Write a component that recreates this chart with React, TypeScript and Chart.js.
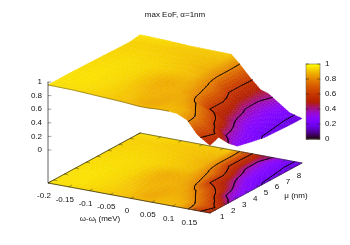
import React, { useEffect, useRef } from "react";
import { Chart, registerables } from "chart.js";

Chart.register(...registerables);

const titleText = "max EoF, \u03b1=1nm";
const omegas = [-0.2, -0.14, -0.08, -0.02, 0.02, 0.04, 0.065, 0.09, 0.11, 0.135, 0.16, 0.19];
const mus = [0.5, 1.3, 2.2, 3, 4.3, 5.5, 6.8, 8, 8.9];
const zMu0 = [0.956, 0.95, 0.93, 0.91, 0.89, 0.89, 0.9, 0.9, 0.89, 0.82, 0.63, 0.51];
const zMu1 = [0.956, 0.96, 0.94, 0.91, 0.87, 0.87, 0.89, 0.89, 0.88, 0.79, 0.69, 0.56];
const zMu2 = [0.956, 0.96, 0.94, 0.9, 0.88, 0.87, 0.88, 0.86, 0.8, 0.72, 0.58, 0.39];
const zMu3 = [0.955, 0.96, 0.94, 0.885, 0.885, 0.88, 0.87, 0.8, 0.74, 0.61, 0.41, 0.28];
const zMu4 = [0.95, 0.955, 0.94, 0.875, 0.88, 0.87, 0.8, 0.6, 0.54, 0.45, 0.33, 0.23];
const zMu5 = [0.945, 0.95, 0.94, 0.92, 0.9, 0.84, 0.76, 0.6, 0.49, 0.33, 0.24, 0.19];
const zMu6 = [0.938, 0.94, 0.93, 0.91, 0.88, 0.81, 0.62, 0.5, 0.39, 0.3, 0.23, 0.18];
const zMu7 = [0.935, 0.93, 0.92, 0.91, 0.9, 0.81, 0.62, 0.5, 0.38, 0.28, 0.22, 0.17];
const zMu8 = [0.96, 0.95, 0.93, 0.925, 0.92, 0.8, 0.63, 0.48, 0.44, 0.33, 0.22, 0.17];
const zRows = [zMu0, zMu1, zMu2, zMu3, zMu4, zMu5, zMu6, zMu7, zMu8];
const contourLevels = [0.2, 0.4, 0.6, 0.8];
const omegaTicks = [-0.2, -0.15, -0.1, -0.05, 0, 0.05, 0.1, 0.15];
const omegaLabels = ["-0.2", "-0.15", "-0.1", "-0.05", "0", "0.05", "0.1", "0.15"];
const muTicks = [1, 2, 3, 4, 5, 6, 7, 8];
const zTicks = [0, 0.2, 0.4, 0.6, 0.8, 1];
const zLabels = ["0", "0.2", "0.4", "0.6", "0.8", "1"];

// View of the 3D box on the page
const W = 350, H = 245;
const ORIGIN = [48, 183], AX = [162, 30], AY = [92, -50];
const Z0 = 33, ZS = 68;
const CB = { l: 306, r: 320, t: 64, b: 139 };
const SUB = 5;
const FONT = "8px 'Liberation Sans', Arial, sans-serif";

const oMin = omegas[0], oMax = omegas[omegas.length - 1];
const mMin = mus[0], mMax = mus[mus.length - 1];

function proj(o: number, m: number, z: number | null) {
  const u = (o - oMin) / (oMax - oMin), v = (m - mMin) / (mMax - mMin);
  const x = ORIGIN[0] + AX[0] * u + AY[0] * v;
  let y = ORIGIN[1] + AX[1] * u + AY[1] * v;
  if (z !== null) y -= Z0 + ZS * z;
  return { x, y };
}

function palette(g: number) {
  const c = Math.max(0, Math.min(1, g));
  const r = Math.sqrt(c), gg = c * c * c, b = Math.max(0, Math.sin(2 * Math.PI * c));
  return `rgb(${Math.round(r * 255)},${Math.round(gg * 255)},${Math.round(b * 255)})`;
}

// Refined table for pm3d-like interpolated shading
type Node = { o: number; m: number; z: number };
function refine(): Node[][] {
  const out: Node[][] = [];
  for (let j = 0; j < mus.length - 1; j++) {
    for (let sj = 0; sj < SUB + (j === mus.length - 2 ? 1 : 0); sj++) {
      const tm = sj / SUB;
      const row: Node[] = [];
      for (let i = 0; i < omegas.length - 1; i++) {
        for (let si = 0; si < SUB + (i === omegas.length - 2 ? 1 : 0); si++) {
          const to = si / SUB;
          const a = zRows[j][i], b = zRows[j][i + 1], c = zRows[j + 1][i], d = zRows[j + 1][i + 1];
          row.push({
            o: omegas[i] + (omegas[i + 1] - omegas[i]) * to,
            m: mus[j] + (mus[j + 1] - mus[j]) * tm,
            z: (a * (1 - to) + b * to) * (1 - tm) + (c * (1 - to) + d * to) * tm,
          });
        }
      }
      out.push(row);
    }
  }
  return out;
}

function contourSegs(t: Node[][], level: number, onSurface: boolean) {
  const pts: { x: number; y: number }[] = [];
  const cross = (a: Node, b: Node) => {
    const s = (level - a.z) / (b.z - a.z);
    const o = a.o + (b.o - a.o) * s, m = a.m + (b.m - a.m) * s;
    return proj(o, m, onSurface ? level : null);
  };
  for (let j = 0; j < t.length - 1; j++) {
    for (let i = 0; i < t[j].length - 1; i++) {
      const n = [t[j][i], t[j][i + 1], t[j + 1][i + 1], t[j + 1][i]];
      const hits: { x: number; y: number }[] = [];
      for (let k = 0; k < 4; k++) {
        const a = n[k], b = n[(k + 1) % 4];
        if (a.z < level !== b.z < level) hits.push(cross(a, b));
      }
      for (let h = 0; h + 1 < hits.length; h += 2) {
        pts.push(hits[h], hits[h + 1], { x: NaN, y: NaN });
      }
    }
  }
  return pts;
}

function tickLines() {
  const pts: { x: number; y: number }[] = [];
  const gap = { x: NaN, y: NaN };
  const du = 0.03, dv = 0.02;
  omegaTicks.forEach((o) => {
    const dm = (mMax - mMin) * du;
    pts.push(proj(o, mMin, null), proj(o, mMin + dm, null), gap);
    pts.push(proj(o, mMax, null), proj(o, mMax - dm, null), gap);
  });
  muTicks.forEach((m) => {
    const dox = (oMax - oMin) * dv;
    pts.push(proj(oMax, m, null), proj(oMax - dox, m, null), gap);
    pts.push(proj(oMin, m, null), proj(oMin + dox, m, null), gap);
  });
  const zx = ORIGIN[0];
  zTicks.forEach((z) => {
    const p = proj(oMin, mMin, z);
    pts.push({ x: zx, y: p.y }, { x: zx + 3, y: p.y }, gap);
  });
  return pts;
}

function cbTicks() {
  const pts: { x: number; y: number }[] = [];
  zTicks.forEach((z) => {
    const y = CB.b - (CB.b - CB.t) * z;
    pts.push({ x: CB.l, y }, { x: CB.l + 2.5, y }, { x: NaN, y: NaN });
    pts.push({ x: CB.r - 2.5, y }, { x: CB.r, y }, { x: NaN, y: NaN });
  });
  return pts;
}

const lineDs = (data: any[], color: string, width: number) => ({
  data,
  showLine: true,
  borderColor: color,
  borderWidth: width,
  pointRadius: 0,
  spanGaps: false,
  borderCapStyle: "round" as const,
  tension: 0,
});

export default function App() {
  const ref = useRef<HTMLCanvasElement>(null);
  useEffect(() => {
    const table = refine();
    const datasets: any[] = [];
    // box
    const c00 = proj(oMin, mMin, null), c10 = proj(oMax, mMin, null), c11 = proj(oMax, mMax, null), c01 = proj(oMin, mMax, null);
    datasets.push(lineDs([c01, c11, { x: NaN, y: NaN }, c10, c11], "rgba(40,40,40,0.8)", 0.7));
    datasets.push(lineDs([c01, c00, c10], "rgba(30,30,30,0.9)", 0.8));
    datasets.push(lineDs([{ x: c00.x, y: c00.y }, { x: c00.x, y: proj(oMin, mMin, 1).y }], "rgba(40,40,40,0.9)", 0.8));
    datasets.push(lineDs(tickLines(), "rgba(40,40,40,0.7)", 0.6));
    // surface front rim
    const rim = omegas.filter((o) => o <= 0.09).map((o, i) => proj(o, mMin, zMu0[i]));
    datasets.push(lineDs(rim, "rgba(70,60,20,0.65)", 0.7));
    contourLevels.forEach((lv) => {
      datasets.push(lineDs(contourSegs(table, lv, false), "#000", 0.8));
      datasets.push(lineDs(contourSegs(table, lv, true), "#000", 0.8));
    });
    datasets.push(lineDs(cbTicks(), "rgba(40,20,0,0.75)", 0.6));

    const drawCells = (chart: any, t: Node[][], surface: boolean) => {
      const { ctx, scales } = chart;
      const px = (p: { x: number; y: number }) => [scales.x.getPixelForValue(p.x), scales.y.getPixelForValue(p.y)];
      for (let j = t.length - 2; j >= 0; j--) {
        for (let i = 0; i < t[j].length - 1; i++) {
          const n = [t[j][i], t[j][i + 1], t[j + 1][i + 1], t[j + 1][i]];
          const z = (n[0].z + n[1].z + n[2].z + n[3].z) / 4;
          const col = palette(z);
          ctx.fillStyle = col;
          ctx.strokeStyle = col;
          ctx.lineWidth = 0.5;
          ctx.beginPath();
          n.forEach((q, k) => {
            const [x, y] = px(proj(q.o, q.m, surface ? q.z : null));
            if (k) ctx.lineTo(x, y); else ctx.moveTo(x, y);
          });
          ctx.closePath();
          ctx.fill();
          ctx.stroke();
        }
      }
    };

    const plugin = {
      id: "surface3d",
      beforeDatasetsDraw(chart: any) {
        const { ctx, scales } = chart;
        ctx.save();
        drawCells(chart, table, false);
        drawCells(chart, table, true);
        // colour box
        const X = scales.x, Y = scales.y;
        const steps = 75;
        for (let i = 0; i < steps; i++) {
          const a = i / steps, b = (i + 1) / steps;
          ctx.fillStyle = palette((a + b) / 2);
          const y1 = Y.getPixelForValue(CB.b - (CB.b - CB.t) * b);
          const y0 = Y.getPixelForValue(CB.b - (CB.b - CB.t) * a);
          ctx.fillRect(X.getPixelForValue(CB.l), y1, CB.r - CB.l, y0 - y1 + 0.5);
        }
        ctx.strokeStyle = "rgba(110,100,80,0.8)";
        ctx.lineWidth = 0.7;
        ctx.strokeRect(CB.l, CB.t, CB.r - CB.l, CB.b - CB.t);
        ctx.restore();
      },
      afterDraw(chart: any) {
        const { ctx, scales } = chart;
        const X = (v: number) => scales.x.getPixelForValue(v);
        const Y = (v: number) => scales.y.getPixelForValue(v);
        ctx.save();
        ctx.font = FONT;
        ctx.fillStyle = "#111";
        ctx.textBaseline = "middle";
        ctx.textAlign = "center";
        ctx.fillText(titleText, X(175), Y(15));
        omegaTicks.forEach((o, i) => {
          const p = proj(o, mMin, null);
          ctx.fillText(omegaLabels[i], X(p.x - 4), Y(p.y + 12.7));
        });
        muTicks.forEach((m) => {
          const p = proj(oMax, m, null);
          ctx.fillText(String(m), X(p.x + 6.8), Y(p.y + 7));
        });
        ctx.fillText("\u03bc (nm)", X(296), Y(196));
        // omega axis label with subscript
        ctx.textAlign = "left";
        const a = "\u03c9-\u03c9", b = "l", c = " (meV)";
        const wa = ctx.measureText(a).width, wc = ctx.measureText(c).width;
        ctx.font = "6px 'Liberation Sans', Arial, sans-serif";
        const wb = ctx.measureText(b).width;
        const x0 = 100 - (wa + wb + wc) / 2;
        ctx.fillText(b, X(x0 + wa), Y(221));
        ctx.font = FONT;
        ctx.fillText(a, X(x0), Y(219));
        ctx.fillText(c, X(x0 + wa + wb), Y(219));
        ctx.textAlign = "right";
        zTicks.forEach((z, i) => {
          const p = proj(oMin, mMin, z);
          ctx.fillText(zLabels[i], X(42), Y(p.y));
        });
        ctx.textAlign = "left";
        zTicks.forEach((z, i) => {
          ctx.fillText(zLabels[i], X(325), Y(CB.b - (CB.b - CB.t) * z));
        });
        ctx.restore();
      },
    };

    const chart = new Chart(ref.current as HTMLCanvasElement, {
      type: "scatter",
      data: { datasets },
      plugins: [plugin],
      options: {
        animation: false,
        responsive: false,
        layout: { padding: 0 },
        plugins: { legend: { display: false }, tooltip: { enabled: false } },
        scales: {
          x: { type: "linear", min: 0, max: W, display: false },
          y: { type: "linear", min: 0, max: H, reverse: true, display: false },
        },
      },
    } as any);
    return () => chart.destroy();
  }, []);
  return (
    <div style={{ position: "fixed", left: 0, top: 0, width: W, height: H, background: "#fff" }}>
      <canvas ref={ref} width={W} height={H} style={{ display: "block" }} />
    </div>
  );
}
